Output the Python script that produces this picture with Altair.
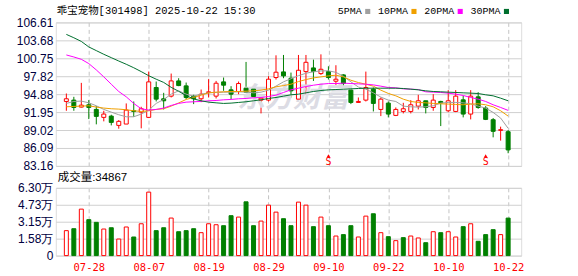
import altair as alt
import pandas as pd

# ---------------- data ----------------
dates = ["07-23", "07-24", "07-25", "07-28", "07-29", "07-30", "07-31", "08-01", "08-04", "08-05", "08-06", "08-07",
         "08-08", "08-11", "08-12", "08-13", "08-14", "08-15", "08-18", "08-19",
         "08-20", "08-21", "08-22", "08-25", "08-26", "08-27", "08-28", "08-29",
         "09-01", "09-02", "09-03", "09-04", "09-05", "09-08", "09-09", "09-10",
         "09-11", "09-12", "09-15", "09-16", "09-17", "09-18", "09-19", "09-22",
         "09-23", "09-24", "09-25", "09-26", "09-29", "09-30", "10-09", "10-10",
         "10-13", "10-14", "10-15", "10-16", "10-17", "10-20", "10-21", "10-22"]

open_p = [93.69, 93.91, 92.77, 93.15, 92.39, 91.09, 91.30, 89.78, 90.00, 92.17, 91.95, 91.09,
          95.97, 94.13, 94.56, 97.05, 96.24, 94.56, 94.13, 95.16,
          94.56, 96.89, 95.59, 95.32, 95.86, 95.70, 93.91, 93.91,
          97.60, 98.52, 97.49, 94.07, 98.57, 99.17, 98.25, 98.57,
          97.00, 98.03, 95.54, 93.53, 93.91, 95.70, 92.39, 93.42,
          91.41, 92.06, 92.06, 92.93, 93.80, 92.71, 93.69, 92.17,
          92.06, 93.96, 91.63, 94.45, 92.61, 90.71, 88.97, 88.75]
high_p = [94.99, 94.45, 96.73, 93.91, 92.93, 92.17, 91.52, 90.65, 93.37, 93.69, 92.82, 98.57,
          96.95, 95.10, 98.25, 97.49, 96.78, 94.78, 95.64, 97.33,
          97.05, 97.60, 96.19, 96.95, 100.15, 95.81, 94.61, 97.82,
          101.23, 101.29, 98.41, 101.29, 101.29, 100.53, 101.39, 99.44,
          99.61, 98.14, 95.97, 94.34, 98.57, 95.97, 94.34, 93.69,
          92.71, 93.47, 93.91, 94.78, 93.80, 94.88, 93.80, 95.54,
          95.54, 94.61, 95.54, 95.21, 92.93, 90.98, 89.57, 89.02]
low_p = [92.17, 92.17, 92.71, 90.81, 89.95, 90.44, 89.78, 89.24, 90.00, 91.19, 89.30, 90.98,
         93.69, 92.39, 94.35, 96.19, 94.07, 93.26, 93.58, 94.34,
         94.18, 95.43, 94.07, 94.88, 95.10, 94.34, 91.74, 93.69,
         97.27, 97.49, 94.34, 93.91, 94.88, 97.05, 98.03, 97.27,
         96.40, 95.97, 93.26, 93.47, 93.69, 92.06, 91.30, 91.09,
         91.30, 91.74, 91.74, 92.39, 91.74, 92.17, 89.67, 91.95,
         91.95, 91.09, 90.76, 92.50, 90.65, 87.83, 87.29, 85.23]
close_p = [94.13, 92.71, 93.09, 92.71, 91.25, 91.63, 90.27, 90.44, 92.28, 92.06, 92.50, 96.89,
           94.07, 93.80, 97.05, 96.29, 94.34, 94.13, 94.88, 95.26,
           96.67, 96.35, 94.88, 96.62, 95.21, 94.50, 94.23, 97.33,
           98.47, 97.87, 95.43, 98.79, 100.09, 98.57, 98.95, 97.60,
           97.33, 96.62, 93.53, 93.69, 95.97, 93.37, 94.07, 91.63,
           92.39, 92.50, 93.15, 93.80, 92.71, 93.91, 93.47, 93.80,
           94.56, 91.63, 94.56, 92.71, 90.76, 88.81, 89.08, 85.77]

ma5 = [93.37, 93.69, 93.75, 93.47, 92.99, 92.39, 91.95, 91.52, 91.19, 91.19, 91.63, 92.28,
       93.37, 94.02, 94.88, 95.43, 94.88, 94.56, 94.88, 95.10,
       95.16, 95.21, 95.21, 95.27, 95.21, 95.10, 95.21, 95.54,
       96.20, 96.90, 97.40, 97.90, 98.30, 98.55, 98.68, 98.70,
       98.45, 97.80, 96.90, 96.05, 95.70, 95.10, 94.40, 93.91,
       93.69, 92.93, 92.82, 92.77, 92.82, 92.99, 93.42, 93.53,
       93.53, 93.47, 93.31, 92.93, 92.61, 91.90, 90.98, 89.30]
ma10 = [92.82, 92.88, 92.93, 92.99, 92.77, 92.61, 92.50, 92.44, 92.34, 92.17, 92.06, 92.17,
        92.39, 92.50, 92.93, 93.45, 94.02, 94.34, 94.72, 95.10,
        95.21, 95.27, 95.32, 95.32, 95.37, 95.43, 95.54, 95.75,
        96.08, 96.29, 96.51, 96.94, 97.27, 97.54, 97.71, 97.87,
        97.98, 97.71, 97.16, 96.78, 96.51, 96.19, 95.54, 95.00,
        94.61, 94.07, 93.69, 93.53, 93.47, 93.37, 93.31, 93.26,
        93.20, 93.15, 93.26, 93.31, 93.15, 92.82, 92.17, 91.30]
ma20 = [101.29, 100.96, 100.58, 99.88, 98.85, 97.71, 96.51, 95.32, 94.45, 93.37, 92.50, 92.28,
        92.39, 92.61, 93.04, 93.37, 93.58, 93.64, 93.69, 93.80,
        93.85, 93.96, 94.02, 94.13, 94.18, 94.29, 94.34, 94.50,
        94.72, 95.16, 95.59, 95.86, 96.13, 96.35, 96.51, 96.62,
        96.62, 96.68, 96.62, 96.57, 96.51, 96.40, 96.19, 95.97,
        95.92, 95.75, 95.70, 95.64, 95.27, 95.21, 95.16, 95.05,
        94.88, 94.67, 94.34, 94.07, 93.69, 93.15, 92.71, 92.23]
ma30 = [104.65, 104.10, 103.50, 102.60, 102.00, 101.40, 100.85, 100.30, 99.77, 99.20, 98.57, 97.90,
        97.33, 96.80, 96.00, 95.35, 94.65, 94.10, 93.80, 93.58,
        93.47, 93.37, 93.42, 93.53, 93.64, 93.80, 93.96, 94.18,
        94.34, 94.56, 94.78, 94.88, 95.10, 95.32, 95.48, 95.59,
        95.64, 95.70, 95.75, 95.81, 95.86, 95.86, 95.86, 95.86,
        95.86, 95.81, 95.70, 95.59, 95.43, 95.32, 95.27, 95.21,
        95.16, 95.10, 95.05, 94.99, 94.78, 94.61, 94.23, 93.80]

volume = [23200, 25000, 43200, 33400, 30900, 24700, 25900, 15400, 26600, 17300, 29600, 59000,
          23200, 25900, 34900, 22200, 23200, 25000, 21300, 29600,
          28700, 27800, 37100, 35800, 50000, 27800, 32100, 46900,
          40400, 34300, 27800, 49700, 46900, 26900, 35800, 27800,
          18200, 19500, 27800, 17300, 36700, 38900, 21300, 17600,
          13900, 16700, 18200, 16400, 12000, 22200, 21300, 22200,
          17300, 26900, 29600, 13300, 19500, 24100, 19500, 34867]
volume_dir = ["up", "down", "up", "down", "down", "up", "down", "up", "up", "down", "up", "up",
              "down", "down", "up", "down", "down", "down", "up", "up",
              "up", "down", "down", "up", "down", "down", "up", "up",
              "up", "down", "down", "up", "up", "down", "up", "down",
              "up", "down", "down", "up", "up", "down", "up", "down",
              "up", "down", "up", "up", "down", "up", "down", "up",
              "up", "down", "up", "down", "down", "down", "up", "down"]

price_ticks = [83.16, 86.09, 89.02, 91.95, 94.88, 97.82, 100.75, 103.68, 106.61]
vol_ticks = [0, 15750, 31500, 47250, 63000]
vol_tick_labels = ["0", "1.58万", "3.15万", "4.73万", "6.30万"]
date_ticks = ["07-28", "08-07", "08-19", "08-29", "09-10", "09-22", "10-10", "10-22"]
signal_dates = ["09-10", "10-17"]
ma_names = ["5PMA", "10PMA", "20PMA", "30PMA"]
ma_cols = ["ma5", "ma10", "ma20", "ma30"]
ma_colors = ["#a0a0a0", "#f0a000", "#ff00ff", "#006f2e"]
title_text = "乖宝宠物[301498] 2025-10-22 15:30"
watermark_text = "东方财富"

# ---------------- frames ----------------
df = pd.DataFrame({
    "i": list(range(len(dates))), "date": dates,
    "open": open_p, "high": high_p, "low": low_p, "close": close_p,
    "ma5": ma5, "ma10": ma10, "ma20": ma20, "ma30": ma30,
    "vol": volume, "vdir": volume_dir,
})
df["dir"] = ["up" if c >= o else "down" for o, c in zip(open_p, close_p)]

RED = "#ff0000"
GREEN = "#008000"
W, H1, H2 = 467, 144, 68

tick_pos = [dates.index(d) for d in date_ticks]
x_label_expr = ("[" + ",".join("'%s'" % d for d in date_ticks) + "][indexof(["
                + ",".join(str(p) for p in tick_pos) + "], datum.value)]")
vol_label_expr = ("[" + ",".join("'%s'" % s for s in vol_tick_labels) + "][indexof(["
                  + ",".join(str(v) for v in vol_ticks) + "], datum.value)]")

xscale = alt.Scale(domain=[-0.742, 60.08], nice=False, zero=False)
pscale = alt.Scale(domain=[83.16, 106.61], nice=False, zero=False)
vscale = alt.Scale(domain=[0, 63000], nice=False, zero=False)

common_x_axis = dict(values=tick_pos, ticks=False, domain=False, grid=True,
                     gridDash=[4, 3], gridColor="#c4c4c4", gridWidth=1,
                     labelFlush=False, labelOverlap=False)
x_axis_top = alt.Axis(labels=False, **common_x_axis)
x_axis_bot = alt.Axis(labels=True, labelExpr=x_label_expr, labelColor=RED,
                      labelFont="DejaVu Sans Mono", labelFontSize=10.5,
                      labelPadding=7, **common_x_axis)
y_axis_top = alt.Axis(values=price_ticks, format=".2f", ticks=False, domain=False,
                      labelPadding=3, labelFont="Liberation Sans", labelFontSize=12,
                      labelColor="#000040", gridColor="#d0d0d0", labelFlush=False,
                      labelOverlap=False)
y_axis_bot = alt.Axis(values=vol_ticks, labelExpr=vol_label_expr, ticks=False, domain=False,
                      labelPadding=3, labelFont="Liberation Sans", labelFontSize=12,
                      labelColor="#000040", gridColor="#d0d0d0", labelFlush=False,
                      labelOverlap=False)


def XT(f="i"):
    return alt.X(f + ":Q", scale=xscale, axis=x_axis_top, title=None)


def XB(f="i"):
    return alt.X(f + ":Q", scale=xscale, axis=x_axis_bot, title=None)


def YP(f):
    return alt.Y(f + ":Q", scale=pscale, axis=y_axis_top, title=None)


dir_stroke = alt.Scale(domain=["up", "down"], range=[RED, GREEN])
dir_fill = alt.Scale(domain=["up", "down"], range=["#ffffff", GREEN])

base = alt.Chart(df)

# ---------------- top panel ----------------
corner_tl = alt.Chart(pd.DataFrame({"a": [0]})).mark_rule(strokeOpacity=0, strokeWidth=0.01).encode(
    x=alt.value(-55), x2=alt.value(-54.5), y=alt.value(-21), y2=alt.value(-20.5))

watermark = alt.Chart(pd.DataFrame({"t": [watermark_text]})).mark_text(
    font="Noto Sans CJK SC", fontSize=28, fontWeight="bold", fontStyle="italic",
    color="#dcdce4", align="center", baseline="middle").encode(
    text="t:N", x=alt.value(238), y=alt.value(77))

wicks = base.mark_rule(strokeWidth=1).encode(
    x=XT(), y=YP("low"), y2="high:Q",
    color=alt.Color("dir:N", scale=dir_stroke, legend=None))

bodies = base.mark_bar(size=4, strokeWidth=1).encode(
    x=XT(), y=YP("open"), y2="close:Q",
    stroke=alt.Stroke("dir:N", scale=dir_stroke, legend=None),
    fill=alt.Fill("dir:N", scale=dir_fill, legend=None))

ma_layers = [base.mark_line(color=c, strokeWidth=1).encode(x=XT(), y=YP(col))
             for col, c in zip(ma_cols, ma_colors)]

sig = df[df["date"].isin(signal_dates)]
sig_arrow = alt.Chart(sig).mark_point(shape="triangle-up", filled=True, color=RED, size=16, opacity=1).encode(
    x=XT(), y=alt.value(134))
sig_text = alt.Chart(sig).mark_text(text="S", color=RED, font="DejaVu Sans Mono", fontSize=10,
                                    baseline="middle", align="center").encode(
    x=XT(), y=alt.value(140.5))

title_mark = alt.Chart(pd.DataFrame({"t": [title_text]})).mark_text(
    font="Liberation Mono, Noto Sans CJK SC", fontSize=10.5, color="#000000",
    align="left", baseline="middle").encode(text="t:N", x=alt.value(1), y=alt.value(-11))

legend_layers = []
for k, (name, col) in enumerate(zip(ma_names, ma_colors)):
    right = 307 + 46.4 * k
    legend_layers.append(alt.Chart(pd.DataFrame({"t": [name]})).mark_text(
        font="Liberation Mono", fontSize=10, color="#000000", align="right",
        baseline="middle").encode(text="t:N", x=alt.value(right), y=alt.value(-11)))
    legend_layers.append(alt.Chart(pd.DataFrame({"t": [name]})).mark_point(
        shape="square", filled=True, color=col, size=26, opacity=1).encode(
        x=alt.value(right + 6), y=alt.value(-11)))

top = alt.layer(wicks, corner_tl, watermark, bodies, *ma_layers, sig_arrow, sig_text,
                title_mark, *legend_layers).properties(width=W, height=H1)

# ---------------- volume panel ----------------
vol_bars = base.mark_bar(size=4, strokeWidth=1).encode(
    x=XB(), y=alt.Y("vol:Q", scale=vscale, axis=y_axis_bot, title=None),
    stroke=alt.Stroke("vdir:N", scale=dir_stroke, legend=None),
    fill=alt.Fill("vdir:N", scale=dir_fill, legend=None))

vol_label = alt.Chart(pd.DataFrame({"t": ["成交量:%d" % volume[-1]]})).mark_text(
    font="Liberation Sans, Noto Sans CJK SC", fontSize=11.5, color="#000000",
    align="left", baseline="middle").encode(text="t:N", x=alt.value(2), y=alt.value(-10))

corner_br = alt.Chart(pd.DataFrame({"a": [0]})).mark_rule(strokeOpacity=0, strokeWidth=0.01).encode(
    x=alt.value(W + 55.5), x2=alt.value(W + 56), y=alt.value(H2 + 20.5), y2=alt.value(H2 + 21))

bottom = alt.layer(vol_bars, vol_label, corner_br).properties(width=W, height=H2)

chart = alt.vconcat(top, bottom, spacing=22, bounds="flush", padding=0,
                    autosize=alt.AutoSizeParams(type="pad")).configure_view(
    stroke="#999999", strokeWidth=1).configure(background="#ffffff")

chart.save("out.html", embed_options={"renderer": "svg", "actions": False})
